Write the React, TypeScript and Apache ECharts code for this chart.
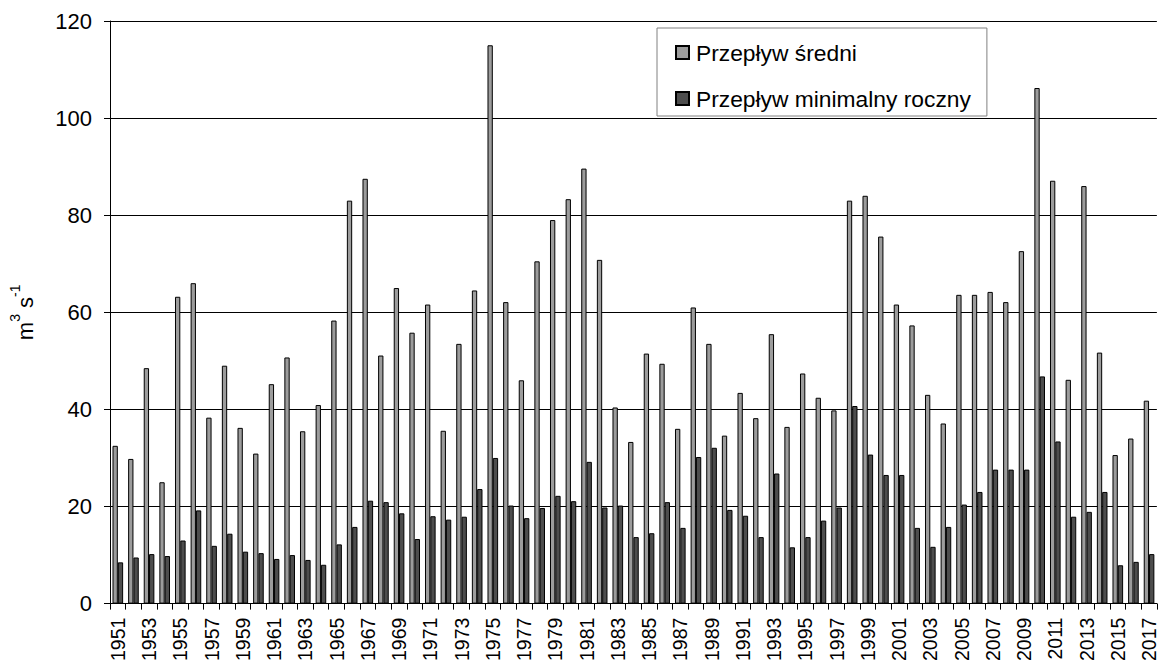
import React, { useEffect, useRef } from "react";
import * as echarts from "echarts";

const years: string[] = [];
for (let y = 1951; y <= 2017; y++) years.push(String(y));

const meanFlow = [
  32.5, 29.8, 48.5, 25.0, 63.2, 66.0, 38.3, 49.0, 36.2, 30.9,
  45.2, 50.7, 35.5, 40.9, 58.3, 83.0, 87.5, 51.1, 65.0, 55.8,
  61.6, 35.6, 53.5, 64.5, 115.0, 62.1, 46.0, 70.5, 79.0, 83.3,
  89.6, 70.8, 40.4, 33.3, 51.5, 49.4, 36.0, 61.0, 53.5, 34.6,
  43.4, 38.2, 55.5, 36.4, 47.4, 42.4, 39.8, 83.0, 84.0, 75.6,
  61.6, 57.3, 43.0, 37.1, 63.6, 63.6, 64.2, 62.1, 72.6, 106.2,
  87.1, 46.1, 86.0, 51.7, 30.6, 34.0, 41.8,
];

const minFlow = [
  8.5, 9.5, 10.2, 9.8, 13.0, 19.2, 11.9, 14.4, 10.7, 10.4,
  9.2, 10.0, 9.0, 8.0, 12.2, 15.8, 21.2, 20.9, 18.6, 13.3,
  18.0, 17.3, 17.9, 23.6, 30.0, 20.2, 17.6, 19.7, 22.2, 21.1,
  29.2, 19.8, 20.2, 13.7, 14.5, 20.9, 15.6, 30.2, 32.1, 19.3,
  18.1, 13.7, 26.8, 11.6, 13.7, 17.1, 19.8, 40.7, 30.7, 26.5,
  26.5, 15.6, 11.7, 15.8, 20.4, 23.0, 27.6, 27.6, 27.6, 46.8,
  33.4, 17.9, 18.9, 23.0, 7.9, 8.6, 10.2,
];

const seriesNames = ["Przepływ średni", "Przepływ minimalny roczny"];
const FONT = "Liberation Sans, Arial, sans-serif";

export default function App() {
  const ref = useRef<HTMLDivElement>(null);
  useEffect(() => {
    if (!ref.current) return;
    const chart = echarts.init(ref.current, undefined, { renderer: "svg" });
    chart.setOption({
      animation: false,
      textStyle: { fontFamily: FONT, color: "#000" },
      grid: { left: 104, right: 0, top: 21, bottom: 56, containLabel: false },
      legend: {
        orient: "vertical",
        left: 657,
        top: 28,
        itemWidth: 13,
        itemHeight: 13,
        itemGap: 23,
        icon: "rect",
        padding: [13, 16, 6, 18],
        borderColor: "#808080",
        borderWidth: 1,
        backgroundColor: "#fff",
        textStyle: { fontSize: 22.8, color: "#000", fontFamily: FONT, padding: [0, 0, 0, 2] },
        data: seriesNames,
      },
      xAxis: {
        type: "category",
        data: years,
        boundaryGap: true,
        axisLine: { lineStyle: { color: "#000", width: 1 } },
        axisTick: { show: true, interval: 0, length: 6, lineStyle: { color: "#000" } },
        axisLabel: {
          interval: 1,
          rotate: 90,
          fontSize: 19.5,
          color: "#000",
          fontFamily: FONT,
          margin: 14,
        },
      },
      yAxis: {
        type: "value",
        min: 0,
        max: 120,
        interval: 20,
        name: "{m|m}{s|3}{m| s}{s|-1}",
        nameLocation: "middle",
        nameRotate: 90,
        nameGap: 74,
        nameTextStyle: {
          rich: {
            m: { fontSize: 22, lineHeight: 28, fontFamily: FONT, color: "#000", verticalAlign: "bottom" },
            s: { fontSize: 14, lineHeight: 14, fontFamily: FONT, color: "#000", verticalAlign: "top" },
          },
        },
        axisLine: { show: true, lineStyle: { color: "#000", width: 1 } },
        axisTick: { show: true, length: 6, lineStyle: { color: "#000" } },
        axisLabel: { fontSize: 22, color: "#000", fontFamily: FONT, margin: 18 },
        splitLine: { show: true, lineStyle: { color: "#000", width: 1 } },
      },
      series: [
        {
          name: seriesNames[0],
          type: "bar",
          data: meanFlow,
          barWidth: "34%",
          barGap: "0%",
          itemStyle: { color: "#9c9c9c", borderColor: "#000", borderWidth: 1 },
        },
        {
          name: seriesNames[1],
          type: "bar",
          data: minFlow,
          barWidth: "34%",
          barGap: "0%",
          itemStyle: { color: "#4d4d4d", borderColor: "#000", borderWidth: 1 },
        },
      ],
    });
    return () => chart.dispose();
  }, []);
  return (
    <div
      ref={ref}
      style={{ position: "fixed", left: 0, top: 0, width: 1159, height: 664, background: "#fff" }}
    />
  );
}
